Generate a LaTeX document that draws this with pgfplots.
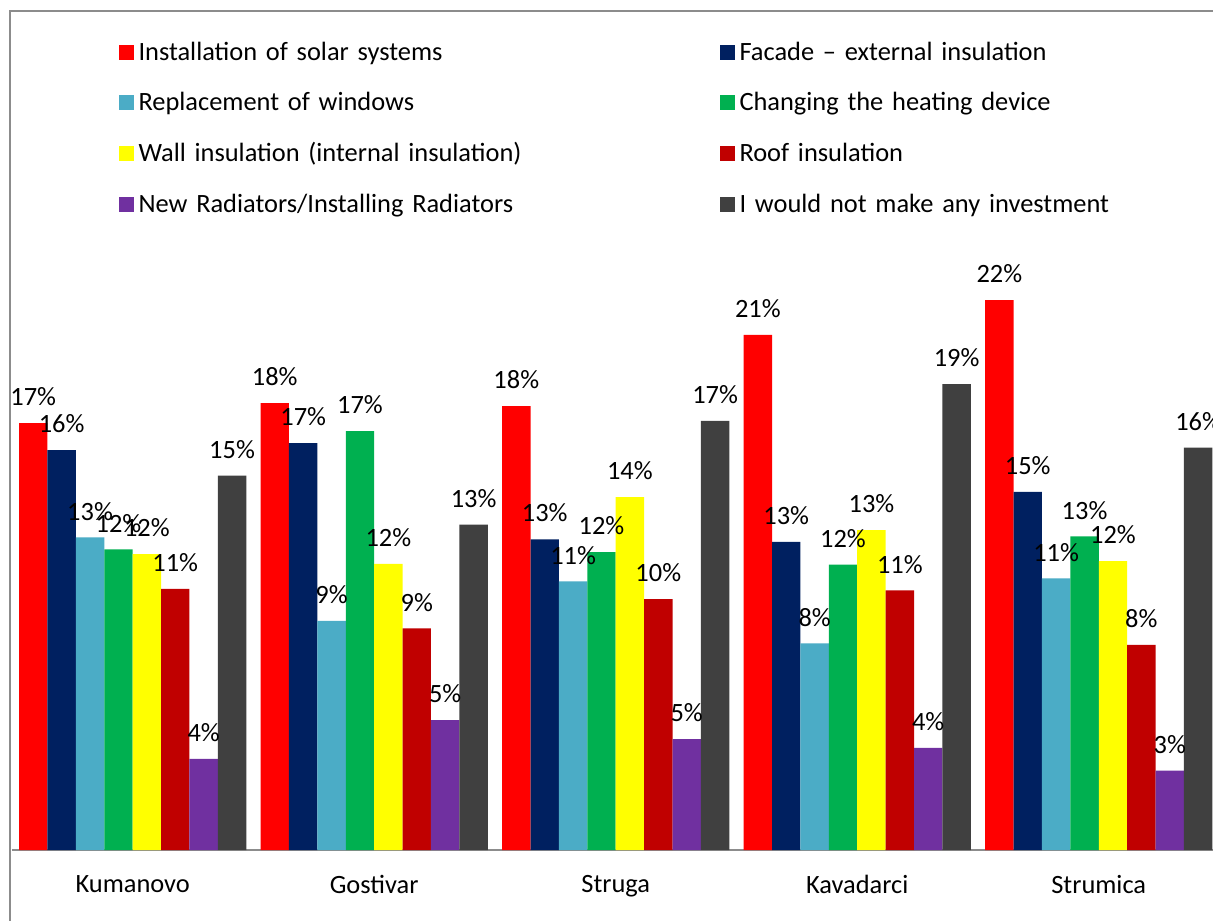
\documentclass[border=0pt]{standalone}
\usepackage{pgfplots}
\usepackage{pgfplotstable}
\pgfplotsset{compat=1.18}
\usepackage{fontspec}
\setmainfont{Carlito}
\newcommand\f{\fontsize{13.2pt}{15.8pt}\selectfont}
\definecolor{cRed}{HTML}{FF0000}
\definecolor{cNavy}{HTML}{002060}
\definecolor{cLBlue}{HTML}{4BACC6}
\definecolor{cGreen}{HTML}{00B050}
\definecolor{cYellow}{HTML}{FFFF00}
\definecolor{cDRed}{HTML}{C00000}
\definecolor{cPurple}{HTML}{7030A0}
\definecolor{cGrey}{HTML}{404040}
\definecolor{cFrame}{HTML}{8C8C8C}

\pgfplotstableread{
x y l
0 17.35 17
1 18.16 18
2 18.04 18
3 20.94 21
4 22.35 22
}\solar
\pgfplotstableread{
x y l
0 16.25 16
1 16.54 17
2 12.63 13
3 12.52 13
4 14.56 15
}\facade
\pgfplotstableread{
x y l
0 12.71 13
1 9.31 9
2 10.92 11
3 8.40 8
4 11.04 11
}\windows
\pgfplotstableread{
x y l
0 12.22 12
1 17.03 17
2 12.11 12
3 11.60 12
4 12.75 13
}\heating
\pgfplotstableread{
x y l
0 12.03 12
1 11.63 12
2 14.34 14
3 13.00 13
4 11.74 12
}\wall
\pgfplotstableread{
x y l
0 10.61 11
1 9.01 9
2 10.20 10
3 10.55 11
4 8.34 8
}\roof
\pgfplotstableread{
x y l
0 3.70 4
1 5.28 5
2 4.51 5
3 4.15 4
4 3.23 3
}\radiators
\pgfplotstableread{
x y l
0 15.22 15
1 13.22 13
2 17.44 17
3 18.94 19
4 16.35 16
}\none

\begin{document}
\begin{tikzpicture}
\clip (0pt,0pt) rectangle (606.5pt,460pt);
\fill[white] (0pt,0pt) rectangle (606.5pt,460pt);
\draw[cFrame, line width=1pt] (5pt,-5pt) -- (5pt,454.5pt) -- (620pt,454.5pt);
\begin{axis}[
  at={(5.95pt,35pt)}, anchor=south west,
  scale only axis,
  width=603.8pt, height=310pt,
  xmin=-0.5, xmax=4.5,
  ymin=0, ymax=25.2,
  ybar=0pt, bar width=14.2pt,
  axis x line*=bottom,
  axis y line=none,
  x axis line style={cFrame, line width=1pt, -},
  xtick={0,1,2,3,4},
  xticklabels={Kumanovo,Gostivar,Struga,Kavadarci,Strumica},
  major tick length=0pt,
  xticklabel style={font=\f, yshift=-9pt},
  point meta=explicit symbolic,
  nodes near coords={\pgfplotspointmeta\%},
  every node near coord/.append style={font=\f, text=black, yshift=5pt},
  legend columns=2,
  legend cell align=left,
  legend style={draw=none, fill=none, font=\f,
    at={(axis description cs:0.083,1.317)}, anchor=north west,
    row sep=10.5pt,
    nodes={text width=288pt, align=left, inner xsep=2.5pt},
    /tikz/every odd column/.append style={column sep=0pt}},
  legend image code/.code={\fill[#1] (0pt,-3.75pt) rectangle (7.5pt,3.75pt);},
  every axis plot/.append style={draw=none},
]
\addplot[fill=cRed] table[x=x,y=y,meta=l] {\solar};
\addlegendentry{Installation of solar systems}
\addplot[fill=cNavy] table[x=x,y=y,meta=l] {\facade};
\addlegendentry{Facade -- external insulation}
\addplot[fill=cLBlue] table[x=x,y=y,meta=l] {\windows};
\addlegendentry{Replacement of windows}
\addplot[fill=cGreen] table[x=x,y=y,meta=l] {\heating};
\addlegendentry{Changing the heating device}
\addplot[fill=cYellow] table[x=x,y=y,meta=l] {\wall};
\addlegendentry{Wall insulation (internal insulation)}
\addplot[fill=cDRed] table[x=x,y=y,meta=l] {\roof};
\addlegendentry{Roof insulation}
\addplot[fill=cPurple] table[x=x,y=y,meta=l] {\radiators};
\addlegendentry{New Radiators/Installing Radiators}
\addplot[fill=cGrey] table[x=x,y=y,meta=l] {\none};
\addlegendentry{I would not make any investment}
\end{axis}
\end{tikzpicture}
\end{document}
